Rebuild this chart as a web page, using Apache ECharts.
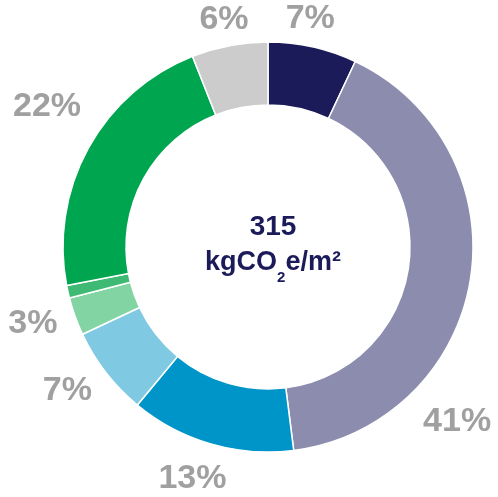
<!DOCTYPE html>
<html>
<head>
<meta charset="utf-8">
<script src="https://cdn.jsdelivr.net/npm/echarts@6/dist/echarts.min.js"></script>
<style>
  html, body { margin: 0; padding: 0; background: #fff; }
  #chart { width: 498px; height: 497px; }
</style>
</head>
<body>
<div id="chart"></div>
<script>
// slices clockwise from 12 o'clock
var shares = [7, 41, 13, 7, 3, 1, 22, 6];
var colours = ['#1c1b5a', '#8c8cae', '#0095c8', '#7fc9e2', '#82d4a2', '#3fba74', '#00a54f', '#cccccc'];
var showLabel = [true, true, true, true, true, false, true, true];
// nudges of each percentage label away from its slice's mid-angle spot
var labelNudge = [[-9, 1], [-43, 138], [-10, 6], [-15, 0], [-14, -3], [0, 0], [-15, -27], [0, 3]];
var total = '315';

var chart = echarts.init(document.getElementById('chart'));

var ring = shares.map(function (v, i) {
  return { value: v, itemStyle: { color: colours[i] } };
});

var labelRing = shares.map(function (v, i) {
  return {
    value: v,
    label: { show: showLabel[i], offset: labelNudge[i] }
  };
});

chart.setOption({
  animation: false,
  title: {
    left: 268,
    top: 204,
    textAlign: 'center',
    text: '{a|' + total + '}\n{b|kgCO}{s|2}{b|e/m²}',
    textStyle: {
      rich: {
        a: { fontFamily: 'Liberation Sans', fontWeight: 'bold', fontSize: 28, color: '#1c1b5a', lineHeight: 36 },
        b: { fontFamily: 'Liberation Sans', fontWeight: 'bold', fontSize: 27, color: '#1c1b5a', lineHeight: 36 },
        s: { fontFamily: 'Liberation Sans', fontWeight: 'bold', fontSize: 15, color: '#1c1b5a', lineHeight: 36, verticalAlign: 'bottom', padding: [0, 0, -4, 0] }
      }
    }
  },
  series: [{
    type: 'pie',
    center: [268, 247],
    radius: [142, 205],
    startAngle: 90,
    clockwise: true,
    itemStyle: { borderColor: '#fff', borderWidth: 1.5 },
    label: { show: false },
    labelLine: { show: false },
    emphasis: { disabled: true },
    data: ring
  }, {
    type: 'pie',
    center: [268, 247],
    radius: [230, 234],
    startAngle: 90,
    clockwise: true,
    silent: true,
    itemStyle: { color: 'rgba(0,0,0,0)' },
    label: {
      position: 'inside',
      rotate: 0,
      formatter: '{c}%',
      fontFamily: 'Liberation Sans',
      fontWeight: 'bold',
      fontSize: 34,
      color: '#a0a0a0'
    },
    labelLine: { show: false },
    emphasis: { disabled: true },
    data: labelRing
  }]
});
</script>
</body>
</html>
